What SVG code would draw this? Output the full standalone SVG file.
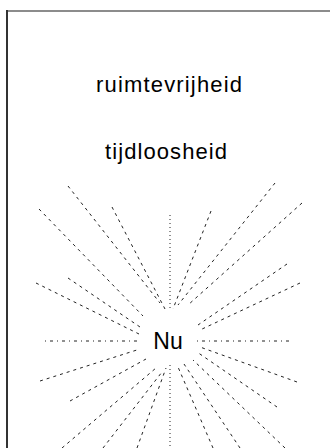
<svg xmlns="http://www.w3.org/2000/svg" width="330" height="448" viewBox="0 0 330 448">
<style>
.t{font-family:"Liberation Sans",Arial,sans-serif;fill:#000;text-anchor:middle}
.r{stroke:#222;stroke-width:1;fill:none;stroke-dasharray:3,4}
.d{stroke:#222;stroke-width:1;fill:none;stroke-dasharray:1,3}
.h{stroke:#222;stroke-width:1;fill:none;stroke-dasharray:1,4,3,4}
</style>
<rect width="330" height="448" fill="#fff"/>
<g id="frame">
<line x1="6" y1="11" x2="330" y2="11" stroke="#666" stroke-width="1.5"/>
<line x1="7" y1="10" x2="7" y2="448" stroke="#333" stroke-width="2"/>
</g>
<g id="ruimtevrijheid"><text class="t" x="169" y="92" font-size="22" textLength="146" lengthAdjust="spacing">ruimtevrijheid</text></g>
<g id="tijdloosheid"><text class="t" x="166" y="159" font-size="22" textLength="122" lengthAdjust="spacing">tijdloosheid</text></g>
<g id="nu"><text class="t" x="168" y="349" font-size="23">Nu</text></g>
<g id="connectors">
<line class="r" x1="68" y1="186" x2="160" y2="303"/>
<line class="r" x1="112" y1="207" x2="165" y2="309"/>
<line class="r" x1="39" y1="209" x2="143" y2="316"/>
<line class="r" x1="68" y1="278" x2="140" y2="327"/>
<line class="r" x1="36" y1="283" x2="139" y2="334"/>
<line class="h" x1="45" y1="341" x2="140" y2="341"/>
<line class="r" x1="40" y1="381" x2="140" y2="349"/>
<line class="r" x1="70" y1="401" x2="146" y2="359"/>
<line class="r" x1="62" y1="448" x2="156" y2="368"/>
<line class="r" x1="103" y1="448" x2="162" y2="372"/>
<line class="r" x1="137" y1="448" x2="166" y2="368"/>
<line class="d" x1="170" y1="365" x2="170" y2="448"/>
<line class="r" x1="213" y1="448" x2="178" y2="367"/>
<line class="r" x1="240" y1="448" x2="184" y2="364"/>
<line class="r" x1="285" y1="448" x2="193" y2="360"/>
<line class="r" x1="277" y1="407" x2="197" y2="352"/>
<line class="r" x1="297" y1="382" x2="200" y2="347"/>
<line class="h" x1="197" y1="341" x2="292" y2="341"/>
<line class="r" x1="300" y1="283" x2="200" y2="330"/>
<line class="r" x1="287" y1="264" x2="198" y2="325"/>
<line class="r" x1="302" y1="203" x2="188" y2="305"/>
<line class="r" x1="275" y1="183" x2="178" y2="305"/>
<line class="r" x1="211" y1="211" x2="173" y2="309"/>
<line class="d" x1="170" y1="215" x2="170" y2="310"/>
</g>
</svg>
